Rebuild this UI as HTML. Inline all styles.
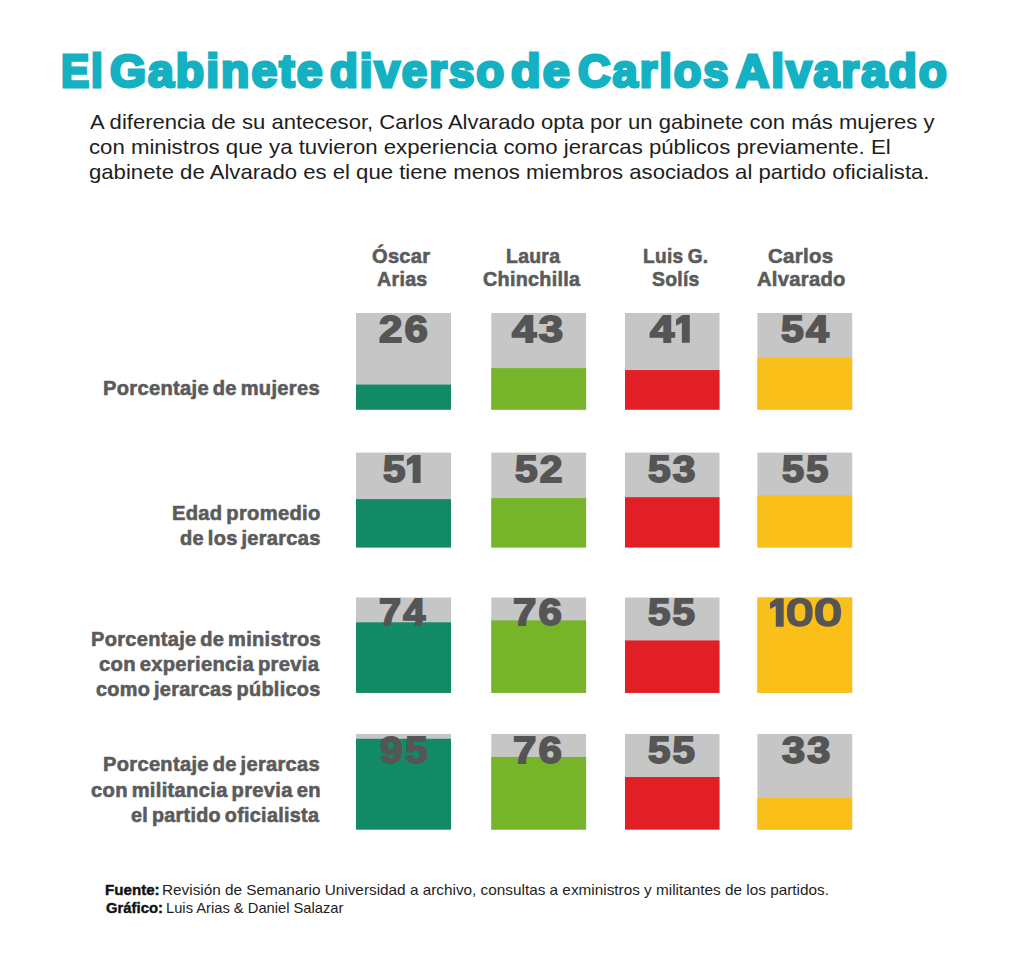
<!DOCTYPE html>
<html><head><meta charset="utf-8">
<style>
html,body{margin:0;padding:0;background:#fff;}
body{width:1024px;height:957px;position:relative;overflow:hidden;font-family:"Liberation Sans",sans-serif;}
.t{position:absolute;white-space:nowrap;line-height:1;transform-origin:0 0;}
</style></head>
<body>
<svg style="position:absolute;left:0;top:0" width="1024" height="957" viewBox="0 0 1024 957"><rect x="356.0" y="313.0" width="95.00" height="96.70" fill="#c6c6c6"/><rect x="356.0" y="384.56" width="95.00" height="25.14" fill="#138a66"/><rect x="491.3" y="313.0" width="94.80" height="96.70" fill="#c6c6c6"/><rect x="491.3" y="368.12" width="94.80" height="41.58" fill="#76b52a"/><rect x="625.0" y="313.0" width="94.50" height="96.70" fill="#c6c6c6"/><rect x="625.0" y="370.05" width="94.50" height="39.65" fill="#e31f26"/><rect x="757.4" y="313.0" width="94.80" height="96.70" fill="#c6c6c6"/><rect x="757.4" y="357.48" width="94.80" height="52.22" fill="#fbbf19"/><rect x="356.0" y="452.6" width="95.00" height="94.90" fill="#c6c6c6"/><rect x="356.0" y="499.10" width="95.00" height="48.40" fill="#138a66"/><rect x="491.3" y="452.6" width="94.80" height="94.90" fill="#c6c6c6"/><rect x="491.3" y="498.15" width="94.80" height="49.35" fill="#76b52a"/><rect x="625.0" y="452.6" width="94.50" height="94.90" fill="#c6c6c6"/><rect x="625.0" y="497.20" width="94.50" height="50.30" fill="#e31f26"/><rect x="757.4" y="452.6" width="94.80" height="94.90" fill="#c6c6c6"/><rect x="757.4" y="495.31" width="94.80" height="52.19" fill="#fbbf19"/><rect x="356.0" y="597.5" width="95.00" height="95.40" fill="#c6c6c6"/><rect x="356.0" y="622.30" width="95.00" height="70.60" fill="#138a66"/><rect x="491.3" y="597.5" width="94.80" height="95.40" fill="#c6c6c6"/><rect x="491.3" y="620.40" width="94.80" height="72.50" fill="#76b52a"/><rect x="625.0" y="597.5" width="94.50" height="95.40" fill="#c6c6c6"/><rect x="625.0" y="640.43" width="94.50" height="52.47" fill="#e31f26"/><rect x="757.4" y="597.5" width="94.80" height="95.40" fill="#c6c6c6"/><rect x="757.4" y="597.50" width="94.80" height="95.40" fill="#fbbf19"/><rect x="356.0" y="734.0" width="95.00" height="95.60" fill="#c6c6c6"/><rect x="356.0" y="738.78" width="95.00" height="90.82" fill="#138a66"/><rect x="491.3" y="734.0" width="94.80" height="95.60" fill="#c6c6c6"/><rect x="491.3" y="756.94" width="94.80" height="72.66" fill="#76b52a"/><rect x="625.0" y="734.0" width="94.50" height="95.60" fill="#c6c6c6"/><rect x="625.0" y="777.02" width="94.50" height="52.58" fill="#e31f26"/><rect x="757.4" y="734.0" width="94.80" height="95.60" fill="#c6c6c6"/><rect x="757.4" y="798.05" width="94.80" height="31.55" fill="#fbbf19"/><polygon fill="#555555" points="676.10,319.40 682.30,314.90 689.80,314.90 689.80,342.70 681.90,342.70 681.90,322.80 676.10,325.80"/><polygon fill="#555555" points="406.90,459.40 413.10,454.90 420.60,454.90 420.60,482.90 412.70,482.90 412.70,462.80 406.90,465.80"/><polygon fill="#555555" points="770.00,602.70 776.20,598.20 783.70,598.20 783.70,626.70 775.80,626.70 775.80,606.10 770.00,609.10"/><path fill="#555555" fill-rule="evenodd" d="M786.90,612.30 C786.90,602.44 791.03,597.80 799.80,597.80 C808.57,597.80 812.70,602.44 812.70,612.30 C812.70,622.16 808.57,626.80 799.80,626.80 C791.03,626.80 786.90,622.16 786.90,612.30 Z M794.50,612.30 C794.50,605.71 795.92,603.40 799.95,603.40 C803.98,603.40 805.40,605.71 805.40,612.30 C805.40,618.89 803.98,621.20 799.95,621.20 C795.92,621.20 794.50,618.89 794.50,612.30 Z "/><path fill="#555555" fill-rule="evenodd" d="M815.00,612.30 C815.00,602.44 819.18,597.80 828.05,597.80 C836.92,597.80 841.10,602.44 841.10,612.30 C841.10,622.16 836.92,626.80 828.05,626.80 C819.18,626.80 815.00,622.16 815.00,612.30 Z M823.00,612.30 C823.00,605.71 824.37,603.40 828.25,603.40 C832.13,603.40 833.50,605.71 833.50,612.30 C833.50,618.89 832.13,621.20 828.25,621.20 C824.37,621.20 823.00,618.89 823.00,612.30 Z "/></svg>
<div class="t" style="left:60.73px;top:48.90px;font-size:45.4px;font-weight:bold;color:#14b1c2;-webkit-text-stroke:3.0px #14b1c2;letter-spacing:2.0px;transform:scaleX(0.9329)">El</div>
<div class="t" style="left:110.15px;top:48.90px;font-size:45.4px;font-weight:bold;color:#14b1c2;-webkit-text-stroke:3.0px #14b1c2;letter-spacing:2.0px;transform:scaleX(1.0200)">Gabinete</div>
<div class="t" style="left:329.80px;top:48.90px;font-size:45.4px;font-weight:bold;color:#14b1c2;-webkit-text-stroke:3.0px #14b1c2;letter-spacing:2.0px;transform:scaleX(1.0035)">diverso</div>
<div class="t" style="left:511.00px;top:48.90px;font-size:45.4px;font-weight:bold;color:#14b1c2;-webkit-text-stroke:3.0px #14b1c2;letter-spacing:2.0px;transform:scaleX(1.0655)">de</div>
<div class="t" style="left:577.90px;top:48.90px;font-size:45.4px;font-weight:bold;color:#14b1c2;-webkit-text-stroke:3.0px #14b1c2;letter-spacing:2.0px;transform:scaleX(0.9947)">Carlos</div>
<div class="t" style="left:735.81px;top:48.90px;font-size:45.4px;font-weight:bold;color:#14b1c2;-webkit-text-stroke:3.0px #14b1c2;letter-spacing:2.0px;transform:scaleX(1.0129)">Alvarado</div>
<div class="t" style="left:90.00px;top:111.80px;font-size:20.8px;font-weight:normal;color:#1e1e1e;transform:scaleX(1.0602)">A diferencia de su antecesor, Carlos Alvarado opta por un gabinete con más mujeres y</div>
<div class="t" style="left:88.93px;top:136.80px;font-size:20.8px;font-weight:normal;color:#1e1e1e;transform:scaleX(1.0669)">con ministros que ya tuvieron experiencia como jerarcas públicos previamente. El</div>
<div class="t" style="left:89.14px;top:161.60px;font-size:20.8px;font-weight:normal;color:#1e1e1e;transform:scaleX(1.0645)">gabinete de Alvarado es el que tiene menos miembros asociados al partido oficialista.</div>
<div class="t" style="left:372.02px;top:245.60px;font-size:20.4px;font-weight:bold;color:#5b5b5b;-webkit-text-stroke:0.6px #5b5b5b;word-spacing:-1.5px;letter-spacing:0.3px;transform:scaleX(0.9845)">Óscar</div>
<div class="t" style="left:377.00px;top:268.60px;font-size:20.4px;font-weight:bold;color:#5b5b5b;-webkit-text-stroke:0.6px #5b5b5b;word-spacing:-1.5px;letter-spacing:0.3px;transform:scaleX(0.9635)">Arias</div>
<div class="t" style="left:505.95px;top:245.60px;font-size:20.4px;font-weight:bold;color:#5b5b5b;-webkit-text-stroke:0.6px #5b5b5b;word-spacing:-1.5px;letter-spacing:0.3px;transform:scaleX(0.9518)">Laura</div>
<div class="t" style="left:483.43px;top:268.60px;font-size:20.4px;font-weight:bold;color:#5b5b5b;-webkit-text-stroke:0.6px #5b5b5b;word-spacing:-1.5px;letter-spacing:0.3px;transform:scaleX(0.9690)">Chinchilla</div>
<div class="t" style="left:643.16px;top:245.60px;font-size:20.4px;font-weight:bold;color:#5b5b5b;-webkit-text-stroke:0.6px #5b5b5b;word-spacing:-1.5px;letter-spacing:0.3px;transform:scaleX(0.9388)">Luis G.</div>
<div class="t" style="left:652.20px;top:268.60px;font-size:20.4px;font-weight:bold;color:#5b5b5b;-webkit-text-stroke:0.6px #5b5b5b;word-spacing:-1.5px;letter-spacing:0.3px;transform:scaleX(0.9490)">Solís</div>
<div class="t" style="left:768.20px;top:245.60px;font-size:20.4px;font-weight:bold;color:#5b5b5b;-webkit-text-stroke:0.6px #5b5b5b;word-spacing:-1.5px;letter-spacing:0.3px;transform:scaleX(1.0032)">Carlos</div>
<div class="t" style="left:756.80px;top:268.60px;font-size:20.4px;font-weight:bold;color:#5b5b5b;-webkit-text-stroke:0.6px #5b5b5b;word-spacing:-1.5px;letter-spacing:0.3px;transform:scaleX(0.9888)">Alvarado</div>
<div class="t" style="left:103.08px;top:378.80px;font-size:19.8px;font-weight:bold;color:#5b5b5b;-webkit-text-stroke:0.6px #5b5b5b;word-spacing:-2.0px;letter-spacing:0.3px;transform:scaleX(1.0165)">Porcentaje de mujeres</div>
<div class="t" style="left:171.98px;top:504.10px;font-size:19.8px;font-weight:bold;color:#5b5b5b;-webkit-text-stroke:0.6px #5b5b5b;word-spacing:-2.0px;letter-spacing:0.3px;transform:scaleX(1.0181)">Edad promedio</div>
<div class="t" style="left:180.09px;top:529.20px;font-size:19.8px;font-weight:bold;color:#5b5b5b;-webkit-text-stroke:0.6px #5b5b5b;word-spacing:-2.0px;letter-spacing:0.3px;transform:scaleX(1.0109)">de los jerarcas</div>
<div class="t" style="left:90.79px;top:630.00px;font-size:19.8px;font-weight:bold;color:#5b5b5b;-webkit-text-stroke:0.6px #5b5b5b;word-spacing:-2.0px;letter-spacing:0.3px;transform:scaleX(1.0124)">Porcentaje de ministros</div>
<div class="t" style="left:99.30px;top:655.20px;font-size:19.8px;font-weight:bold;color:#5b5b5b;-webkit-text-stroke:0.6px #5b5b5b;word-spacing:-2.0px;letter-spacing:0.3px;transform:scaleX(1.0199)">con experiencia previa</div>
<div class="t" style="left:95.50px;top:680.30px;font-size:19.8px;font-weight:bold;color:#5b5b5b;-webkit-text-stroke:0.6px #5b5b5b;word-spacing:-2.0px;letter-spacing:0.3px;transform:scaleX(1.0049)">como jerarcas públicos</div>
<div class="t" style="left:103.28px;top:755.40px;font-size:19.8px;font-weight:bold;color:#5b5b5b;-webkit-text-stroke:0.6px #5b5b5b;word-spacing:-2.0px;letter-spacing:0.3px;transform:scaleX(1.0156)">Porcentaje de jerarcas</div>
<div class="t" style="left:91.30px;top:780.70px;font-size:19.8px;font-weight:bold;color:#5b5b5b;-webkit-text-stroke:0.6px #5b5b5b;word-spacing:-2.0px;letter-spacing:0.3px;transform:scaleX(1.0192)">con militancia previa en</div>
<div class="t" style="left:130.70px;top:805.60px;font-size:19.8px;font-weight:bold;color:#5b5b5b;-webkit-text-stroke:0.6px #5b5b5b;word-spacing:-2.0px;letter-spacing:0.3px;transform:scaleX(0.9995)">el partido oficialista</div>
<div class="t" style="left:104.81px;top:883.00px;font-size:14.5px;font-weight:bold;color:#111111;-webkit-text-stroke:0.4px #111111;transform:scaleX(1.0430)">Fuente:</div>
<div class="t" style="left:161.94px;top:882.90px;font-size:14.5px;font-weight:normal;color:#1e1e1e;transform:scaleX(1.0569)">Revisión de Semanario Universidad a archivo, consultas a exministros y militantes de los partidos.</div>
<div class="t" style="left:105.60px;top:900.70px;font-size:14.5px;font-weight:bold;color:#111111;-webkit-text-stroke:0.4px #111111;transform:scaleX(1.0236)">Gráfico:</div>
<div class="t" style="left:166.19px;top:900.60px;font-size:14.5px;font-weight:normal;color:#1e1e1e;transform:scaleX(1.0144)">Luis Arias &amp; Daniel Salazar</div>
<div class="t" style="left:378.75px;top:310.60px;font-size:37px;font-weight:bold;color:#555555;-webkit-text-stroke:1.8px #555555;letter-spacing:2.0px;transform:scaleX(1.1314)">26</div>
<div class="t" style="left:512.30px;top:310.60px;font-size:37px;font-weight:bold;color:#555555;-webkit-text-stroke:1.8px #555555;letter-spacing:2.0px;transform:scaleX(1.1814)">43</div>
<div class="t" style="left:650.00px;top:310.90px;font-size:37px;font-weight:bold;color:#555555;-webkit-text-stroke:1.8px #555555;letter-spacing:2.0px;transform:scaleX(1.1810)">4</div>
<div class="t" style="left:781.25px;top:310.60px;font-size:37px;font-weight:bold;color:#555555;-webkit-text-stroke:1.8px #555555;letter-spacing:2.0px;transform:scaleX(1.1080)">54</div>
<div class="t" style="left:383.30px;top:450.90px;font-size:37px;font-weight:bold;color:#555555;-webkit-text-stroke:1.8px #555555;letter-spacing:2.0px;transform:scaleX(1.0905)">5</div>
<div class="t" style="left:514.90px;top:450.90px;font-size:37px;font-weight:bold;color:#555555;-webkit-text-stroke:1.8px #555555;letter-spacing:2.0px;transform:scaleX(1.1000)">52</div>
<div class="t" style="left:647.70px;top:450.90px;font-size:37px;font-weight:bold;color:#555555;-webkit-text-stroke:1.8px #555555;letter-spacing:2.0px;transform:scaleX(1.1000)">53</div>
<div class="t" style="left:782.40px;top:450.90px;font-size:37px;font-weight:bold;color:#555555;-webkit-text-stroke:1.8px #555555;letter-spacing:2.0px;transform:scaleX(1.0744)">55</div>
<div class="t" style="left:378.83px;top:594.10px;font-size:37px;font-weight:bold;color:#555555;-webkit-text-stroke:1.8px #555555;letter-spacing:2.0px;transform:scaleX(1.0721)">74</div>
<div class="t" style="left:513.07px;top:594.10px;font-size:37px;font-weight:bold;color:#555555;-webkit-text-stroke:1.8px #555555;letter-spacing:2.0px;transform:scaleX(1.1333)">76</div>
<div class="t" style="left:647.70px;top:594.10px;font-size:37px;font-weight:bold;color:#555555;-webkit-text-stroke:1.8px #555555;letter-spacing:2.0px;transform:scaleX(1.0884)">55</div>
<div class="t" style="left:379.60px;top:732.10px;font-size:37px;font-weight:bold;color:#555555;-webkit-text-stroke:1.8px #555555;letter-spacing:2.0px;transform:scaleX(1.1047)">95</div>
<div class="t" style="left:513.07px;top:732.10px;font-size:37px;font-weight:bold;color:#555555;-webkit-text-stroke:1.8px #555555;letter-spacing:2.0px;transform:scaleX(1.1333)">76</div>
<div class="t" style="left:647.70px;top:732.10px;font-size:37px;font-weight:bold;color:#555555;-webkit-text-stroke:1.8px #555555;letter-spacing:2.0px;transform:scaleX(1.0884)">55</div>
<div class="t" style="left:781.70px;top:732.10px;font-size:37px;font-weight:bold;color:#555555;-webkit-text-stroke:1.8px #555555;letter-spacing:2.0px;transform:scaleX(1.1186)">33</div>
</body></html>
